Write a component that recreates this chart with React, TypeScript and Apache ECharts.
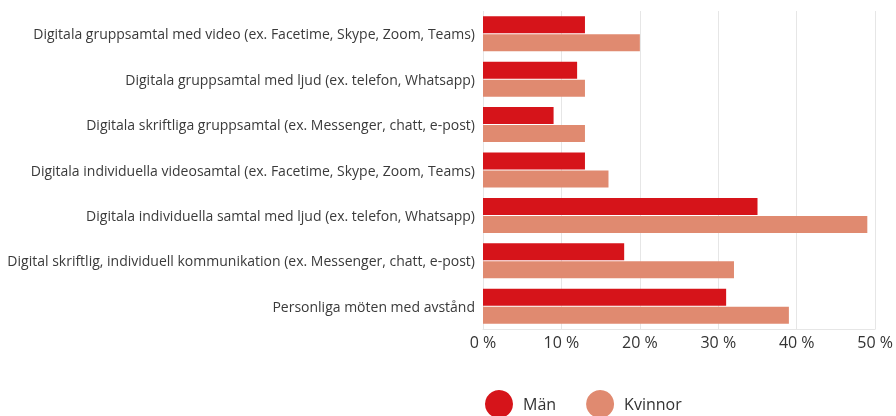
import React, { useEffect, useRef } from "react";
import * as echarts from "echarts";

const categories = [
  "Digitala gruppsamtal med video (ex. Facetime, Skype, Zoom, Teams)",
  "Digitala gruppsamtal med ljud (ex. telefon, Whatsapp)",
  "Digitala skriftliga gruppsamtal (ex. Messenger, chatt, e-post)",
  "Digitala individuella videosamtal (ex. Facetime, Skype, Zoom, Teams)",
  "Digitala individuella samtal med ljud (ex. telefon, Whatsapp)",
  "Digital skriftlig, individuell kommunikation (ex. Messenger, chatt, e-post)",
  "Personliga möten med avstånd",
];
const man = [13, 12, 9, 13, 35, 18, 31];
const kvinnor = [20, 13, 13, 16, 49, 32, 39];
const seriesNames = ["Män", "Kvinnor"];

export default function App() {
  const ref = useRef<HTMLDivElement>(null);
  useEffect(() => {
    if (!ref.current) return;
    const chart = echarts.init(ref.current, undefined, { renderer: "svg" });
    const font = "'Open Sans', sans-serif";
    chart.setOption({
      animation: false,
      textStyle: { fontFamily: font },
      grid: { left: 483, right: 18, top: 11, bottom: 87 },
      legend: {
        data: seriesNames,
        left: 485,
        top: 390,
        padding: 0,
        icon: "circle",
        itemWidth: 28,
        itemHeight: 28,
        itemGap: 30,
        textStyle: { fontSize: 16, color: "#333", fontFamily: font, padding: [0, 0, 0, 5] },
      },
      xAxis: {
        type: "value",
        min: 0,
        max: 50,
        interval: 10,
        axisLabel: {
          formatter: (v: number) => `${v} %`,
          fontSize: 16,
          color: "#333",
          margin: 5,
          fontFamily: font,
        },
        axisLine: { show: true, lineStyle: { color: "#e6e6e6" } },
        splitLine: { show: true, lineStyle: { color: "#e6e6e6", width: 1 } },
        axisTick: { show: false },
      },
      yAxis: {
        type: "category",
        inverse: true,
        data: categories,
        axisLine: { show: false },
        axisTick: { show: false },
        axisLabel: { fontSize: 14, color: "#3a3a3a", margin: 8, fontFamily: font },
      },
      series: [
        {
          name: seriesNames[0],
          type: "bar",
          data: man,
          itemStyle: { color: "#d6141a" },
          barWidth: 17,
          barGap: "6%",
        },
        {
          name: seriesNames[1],
          type: "bar",
          data: kvinnor,
          itemStyle: { color: "#e08a70" },
          barWidth: 17,
          barGap: "6%",
        },
      ],
    });
    return () => chart.dispose();
  }, []);
  return (
    <div
      ref={ref}
      style={{ position: "fixed", left: 0, top: 0, width: 896, height: 416 }}
    />
  );
}
